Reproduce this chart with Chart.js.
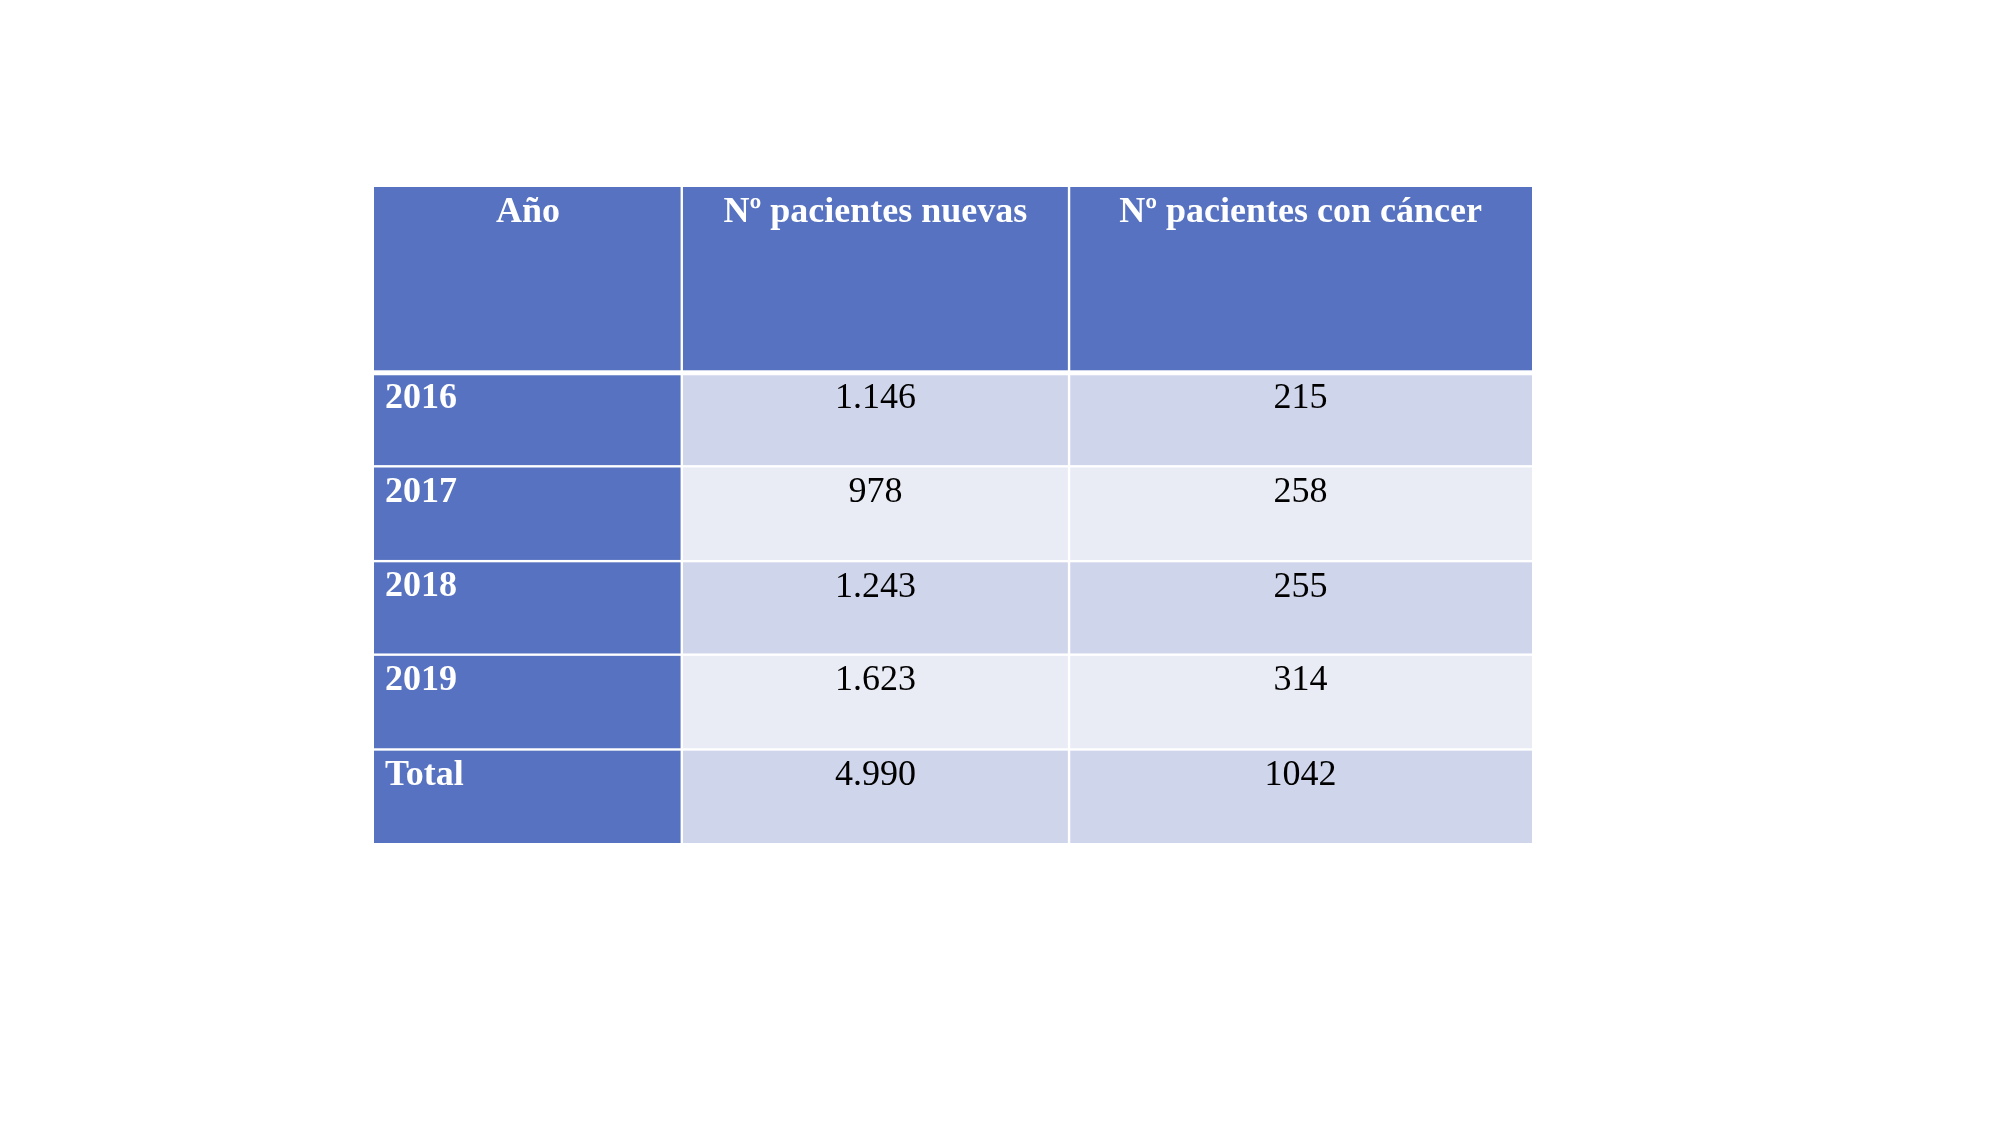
<!DOCTYPE html>
<html>
<head>
<meta charset="utf-8">
<script src="https://cdn.jsdelivr.net/npm/chart.js@4.4.0/dist/chart.umd.min.js"></script>
<style>
  html, body { margin: 0; padding: 0; background: #ffffff; }
  #wrap { width: 2000px; height: 1125px; }
</style>
</head>
<body>
<div id="wrap"><canvas id="table_chart"></canvas></div>
<script>
// Table content
const headers = ['Año', 'Nº pacientes nuevas', 'Nº pacientes con cáncer'];
const years = ['2016', '2017', '2018', '2019', 'Total'];
const nuevas = [1146, 978, 1243, 1623, 4990];
const cancer = [215, 258, 255, 314, 1042];

// Layout of the grid in scale units
const colEdges = [0, 240, 542, 903];
const rowEdges = [0, 145, 218, 292, 365, 439, 512];

function fmtDots(n) {
    return String(n).replace(/\B(?=(\d{3})+(?!\d))/g, '.');
}

const tablePlugin = {
    id: 'tableCells',
    afterDraw(chart) {
        const ctx = chart.ctx;
        const x = chart.scales.x, y = chart.scales.y;
        const rows = [headers].concat(years.map((yr, i) => [yr, fmtDots(nuevas[i]), String(cancer[i])]));
        ctx.save();
        for (let r = 0; r < rows.length; r++) {
            const top = y.getPixelForValue(rowEdges[r]);
            const bot = y.getPixelForValue(rowEdges[r + 1]);
            for (let c = 0; c < 3; c++) {
                const left = x.getPixelForValue(colEdges[c]);
                const right = x.getPixelForValue(colEdges[c + 1]);
                let fill;
                if (r === 0 || c === 0) fill = '#5672c0';
                else fill = (r % 2 === 1) ? '#cfd5ea' : '#e9ebf5';
                ctx.fillStyle = fill;
                const gt = r === 0 ? 0 : (r === 1 ? 2.5 : 1.2);
                const gb = r === rows.length - 1 ? 0 : (r === 0 ? 2.5 : 1.2);
                const gl = c === 0 ? 0 : 1.2;
                const gr = c === 2 ? 0 : 1.2;
                ctx.fillRect(left + gl, top + gt, right - left - gl - gr, bot - top - gt - gb);

                const bold = r === 0 || c === 0;
                ctx.font = (bold ? 'bold ' : '') + '36px "Liberation Serif", "DejaVu Serif", serif';
                ctx.fillStyle = bold ? '#ffffff' : '#000000';
                ctx.textBaseline = 'middle';
                let tx;
                if (r > 0 && c === 0) { ctx.textAlign = 'left'; tx = left + 11; }
                else { ctx.textAlign = 'center'; tx = (left + right) / 2; }
                ctx.fillText(rows[r][c], tx, top + 26);
            }
        }
        ctx.restore();
    }
};

new Chart(document.getElementById('table_chart'), {
    type: 'scatter',
    data: { datasets: [{ data: [], pointRadius: 0 }] },
    options: {
        responsive: true,
        maintainAspectRatio: false,
        animation: false,
        layout: { padding: { left: 374, right: 468, top: 187, bottom: 282 } },
        plugins: { legend: { display: false }, tooltip: { enabled: false } },
        scales: {
            x: { type: 'linear', min: colEdges[0], max: colEdges[colEdges.length - 1], display: false },
            y: { type: 'linear', min: rowEdges[0], max: rowEdges[rowEdges.length - 1], reverse: true, display: false }
        }
    },
    plugins: [tablePlugin]
});
</script>
</body>
</html>
